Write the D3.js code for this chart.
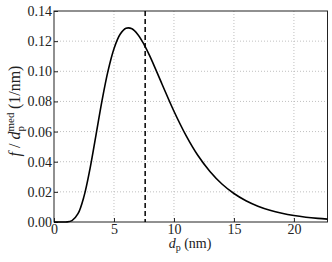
<!DOCTYPE html>
<html>
<head>
<meta charset="utf-8">
<script src="https://cdn.jsdelivr.net/npm/d3@7"></script>
<style>
  body { margin: 0; background: #fff; }
</style>
</head>
<body>
<svg width="332" height="262"></svg>
<script>
// size distribution
var diam = [0, 0.5, 1, 1.5, 2, 2.5, 3, 3.5, 4, 4.5, 5, 5.5, 6, 6.5, 7, 7.5, 8, 9, 10, 11, 12, 13, 14, 15, 16, 17, 18, 19, 20, 21, 22, 22.8];
var dens = [0, 0, 0.00004, 0.0009, 0.0055, 0.017, 0.0353, 0.0577, 0.0804, 0.1001, 0.115, 0.1244, 0.1285, 0.1282, 0.1243, 0.1179, 0.1099, 0.0916, 0.0735, 0.0575, 0.0441, 0.0335, 0.0252, 0.0189, 0.0141, 0.0105, 0.0078, 0.0058, 0.0043, 0.0032, 0.0024, 0.0019];
var medianD = 7.6;

var xTicks = [0, 5, 10, 15, 20];
var yTicks = [0, 0.02, 0.04, 0.06, 0.08, 0.10, 0.12, 0.14];

var pLeft = 54, pRight = 327.5, pTop = 11, pBottom = 222;
var serif = '"Liberation Serif", "DejaVu Serif", serif';

var svg = d3.select('svg');

var x = d3.scaleLinear().domain([0, 22.8]).range([pLeft, pRight]);
var y = d3.scaleLinear().domain([0, 0.14]).range([pBottom, pTop]);

// grid
var grid = svg.append('g')
    .attr('stroke', '#b0b0b0')
    .attr('stroke-width', 0.8)
    .attr('stroke-dasharray', '1,2');
grid.selectAll('.gx')
    .data(xTicks.slice(1))
    .enter().append('line')
    .attr('x1', function (d) { return x(d); })
    .attr('x2', function (d) { return x(d); })
    .attr('y1', pTop).attr('y2', pBottom);
grid.selectAll('.gy')
    .data(yTicks.slice(1, -1))
    .enter().append('line')
    .attr('y1', function (d) { return y(d); })
    .attr('y2', function (d) { return y(d); })
    .attr('x1', pLeft).attr('x2', pRight);

// axes with inward ticks
var xAxis = svg.append('g')
    .attr('transform', 'translate(0,' + pBottom + ')')
    .call(d3.axisBottom(x).tickValues(xTicks).tickSizeInner(-4).tickSizeOuter(0).tickPadding(2).tickFormat(d3.format('d')));
var yAxis = svg.append('g')
    .attr('transform', 'translate(' + pLeft + ',0)')
    .call(d3.axisLeft(y).tickValues(yTicks).tickSizeInner(-4).tickSizeOuter(0).tickPadding(2).tickFormat(d3.format('.2f')));
[xAxis, yAxis].forEach(function (a) {
    a.select('.domain').remove();
    a.selectAll('line').attr('stroke', '#222');
    a.selectAll('text')
        .style('font-family', serif)
        .style('font-size', '14px')
        .attr('fill', '#222');
});

// frame
svg.append('rect')
    .attr('x', pLeft).attr('y', pTop)
    .attr('width', pRight - pLeft).attr('height', pBottom - pTop)
    .attr('fill', 'none')
    .attr('stroke', '#222')
    .attr('stroke-width', 1);

var pts = diam.map(function (d, i) { return [d, dens[i]]; });

svg.append('path')
    .datum(pts)
    .attr('fill', 'none')
    .attr('stroke', '#000')
    .attr('stroke-width', 1.6)
    .attr('d', d3.line()
        .curve(d3.curveCatmullRom)
        .x(function (d) { return x(d[0]); })
        .y(function (d) { return y(Math.max(0, d[1])); }));

svg.append('line')
    .attr('x1', x(medianD)).attr('x2', x(medianD))
    .attr('y1', pTop).attr('y2', pBottom)
    .attr('stroke', '#000')
    .attr('stroke-width', 1.5)
    .attr('stroke-dasharray', '5,3');

// labels
var xl = svg.append('text')
    .attr('x', 190).attr('y', 248)
    .attr('text-anchor', 'middle')
    .attr('fill', '#222')
    .style('font-family', serif)
    .style('font-size', '14px');
xl.append('tspan').style('font-style', 'italic').text('d');
xl.append('tspan').attr('dy', 3).style('font-size', '10px').text('p');
xl.append('tspan').attr('dy', -3).text(' (nm)');

var yl = svg.append('text')
    .attr('transform', 'translate(20,111) rotate(-90)')
    .attr('text-anchor', 'middle')
    .attr('fill', '#222')
    .style('font-family', serif)
    .style('font-size', '16px');
yl.append('tspan').style('font-style', 'italic').text('f');
yl.append('tspan').text(' / ');
yl.append('tspan').style('font-style', 'italic').text('d');
var sup = yl.append('tspan').attr('dy', -6).style('font-size', '11px').text('med');
var supW = sup.node().getComputedTextLength();
yl.append('tspan').attr('dx', -supW).attr('dy', 10).style('font-size', '11px').text('p');
yl.append('tspan').attr('dx', supW - 6).attr('dy', -4).text(' (1/nm)');
</script>
</body>
</html>
